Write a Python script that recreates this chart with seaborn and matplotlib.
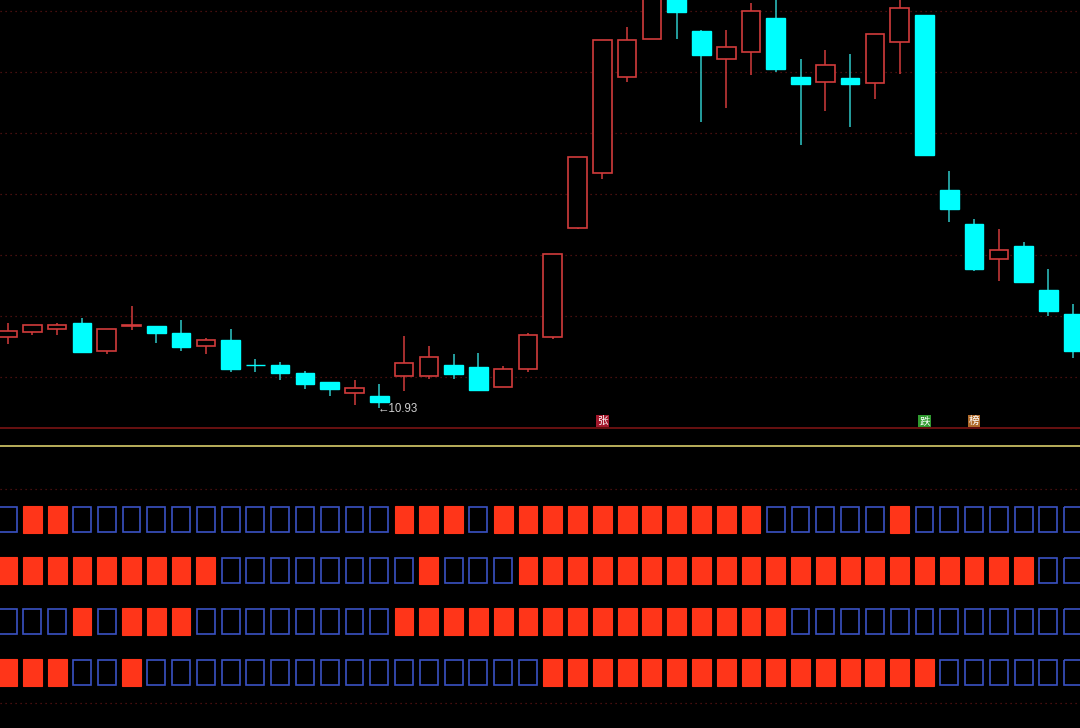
import numpy as np
import pandas as pd
import matplotlib
matplotlib.use("Agg")
import matplotlib.pyplot as plt
import matplotlib.transforms as mtransforms
import seaborn as sns

# ---------------- data ----------------
opens = [11.99, 12.07, 12.12, 12.20, 11.79, 12.16, 12.16, 12.05, 11.86, 11.95,
         11.58, 11.57, 11.45, 11.32, 11.16, 11.11, 11.41, 11.41, 11.58, 11.54,
         11.25, 11.52, 12.00, 13.63, 14.45, 15.90, 16.46, 17.18, 16.58, 16.17,
         16.27, 16.78, 15.90, 15.82, 15.88, 15.81, 16.42, 16.83, 14.20, 13.69,
         13.17, 13.36, 12.70, 12.34]
highs = [12.20, 12.18, 12.20, 12.28, 12.11, 12.46, 12.16, 12.25, 11.98, 12.11,
         11.67, 11.62, 11.49, 11.32, 11.35, 11.29, 12.01, 11.86, 11.74, 11.75,
         11.56, 12.05, 13.24, 14.70, 16.45, 16.64, 17.25, 17.30, 16.60, 16.60,
         17.01, 17.10, 16.17, 16.30, 16.24, 16.54, 17.10, 16.83, 14.49, 13.77,
         13.61, 13.42, 13.02, 12.49]
lows = [11.89, 12.02, 12.02, 11.75, 11.74, 12.10, 11.91, 11.79, 11.74, 11.47,
        11.47, 11.35, 11.22, 11.11, 10.97, 10.93, 11.19, 11.37, 11.37, 11.20,
        11.25, 11.47, 11.97, 13.62, 14.37, 15.82, 16.46, 16.46, 15.22, 15.43,
        15.93, 15.97, 14.88, 15.39, 15.15, 15.57, 15.94, 14.73, 13.72, 12.99,
        12.84, 12.82, 12.31, 11.68]
closes = [12.08, 12.18, 12.18, 11.77, 12.11, 12.18, 12.06, 11.84, 11.95, 11.52,
          11.58, 11.46, 11.29, 11.21, 11.23, 11.02, 11.60, 11.69, 11.44, 11.20,
          11.51, 12.02, 13.24, 14.70, 16.45, 16.45, 17.20, 16.87, 16.22, 16.35,
          16.88, 16.02, 15.79, 16.07, 15.79, 16.54, 16.93, 14.73, 13.91, 13.01,
          13.30, 12.82, 12.39, 11.79]

low_label = "←10.93"
low_index = 15

signal_labels = ["张", "跌", "榜"]
signal_index = [24, 37, 39]
signal_colors = ["#a3182c", "#2f9a2f", "#b06a2a"]

# indicator rows: 1 = filled red block, 0 = hollow blue block
row1 = [0, 1, 1, 0, 0, 0, 0, 0, 0, 0, 0, 0, 0, 0, 0, 0, 1, 1, 1, 0, 1, 1,
        1, 1, 1, 1, 1, 1, 1, 1, 1, 0, 0, 0, 0, 0, 1, 0, 0, 0, 0, 0, 0, 0]
row2 = [1, 1, 1, 1, 1, 1, 1, 1, 1, 0, 0, 0, 0, 0, 0, 0, 0, 1, 0, 0, 0, 1,
        1, 1, 1, 1, 1, 1, 1, 1, 1, 1, 1, 1, 1, 1, 1, 1, 1, 1, 1, 1, 0, 0]
row3 = [0, 0, 0, 1, 0, 1, 1, 1, 0, 0, 0, 0, 0, 0, 0, 0, 1, 1, 1, 1, 1, 1,
        1, 1, 1, 1, 1, 1, 1, 1, 1, 1, 0, 0, 0, 0, 0, 0, 0, 0, 0, 0, 0, 0]
row4 = [1, 1, 1, 0, 0, 1, 0, 0, 0, 0, 0, 0, 0, 0, 0, 0, 0, 0, 0, 0, 0, 0,
        1, 1, 1, 1, 1, 1, 1, 1, 1, 1, 1, 1, 1, 1, 1, 1, 0, 0, 0, 0, 0, 0]
rows = [row1, row2, row3, row4]

# ---------------- style ----------------
sns.set_theme(style="dark", rc={
    "figure.facecolor": "black",
    "axes.facecolor": "black",
    "savefig.facecolor": "black",
})
plt.rcParams["font.family"] = ["DejaVu Sans"]

UP = "#d23b3b"
DOWN = "#00ffff"
DOWN_WICK = "#2ec8c8"
GRID = "#5e1414"
BLOCK_RED = "#ff3519"
BLOCK_BLUE = "#3a52c4"

df = pd.DataFrame({"open": opens, "high": highs, "low": lows, "close": closes})
df["idx"] = np.arange(len(df))
df["up"] = df["close"] >= df["open"]
df.loc[df["open"] == df["close"], "up"] = False
df.loc[5, "up"] = True

W, H = 1080, 728
fig = plt.figure(figsize=(W / 100, H / 100), dpi=100)
x0 = 7.6
step = 24.78
xlim = (-x0 / step, (W - x0) / step)

# ---------------- price panel ----------------
ax = fig.add_axes([0, 1 - 428 / H, 1, 428 / H])
ax.set_facecolor("black")
ax.set_xlim(*xlim)
ax.set_ylim(10.63, 17.05)
grid_levels = np.arange(11.395, 17.0, 0.915)
for g in grid_levels:
    ax.axhline(g, color=GRID, lw=0.9, ls=(0, (1, 3)), zorder=0)

body_w = 0.75
for _, r in df.iterrows():
    col = UP if r["up"] else DOWN
    wcol = UP if r["up"] else DOWN_WICK
    ax.vlines(r["idx"], r["low"], r["high"], color=wcol, lw=1.1, zorder=1)
    lo = min(r["open"], r["close"])
    hgt = abs(r["close"] - r["open"])
    if r["up"]:
        ax.bar(r["idx"], hgt, bottom=lo, width=body_w, facecolor="black",
               edgecolor=col, linewidth=1.2, zorder=2)
    else:
        ax.bar(r["idx"], hgt, bottom=lo, width=body_w, facecolor=col,
               edgecolor=col, linewidth=1.0, zorder=2)

ax.annotate(low_label, xy=(low_index, lows[low_index]), xytext=(-1, -1),
            textcoords="offset points", ha="left", va="center",
            color="#d0d0d0", fontsize=8.3,
            family=["Liberation Sans", "DejaVu Sans"])

trans = mtransforms.blended_transform_factory(ax.transData, ax.transAxes)
for lab, i, c in zip(signal_labels, signal_index, signal_colors):
    ax.text(i, 7 / 428, lab, transform=trans, ha="center", va="center",
            color="white", fontsize=7.6,
            family=["Noto Sans CJK SC", "DejaVu Sans"],
            bbox=dict(boxstyle="square,pad=0.1", facecolor=c, edgecolor="none"))

for s in ["top", "left", "right"]:
    ax.spines[s].set_visible(False)
ax.spines["bottom"].set_color("#7a1414")
ax.spines["bottom"].set_linewidth(1.2)
ax.set_xticks([])
ax.set_yticks([])

# ---------------- indicator panel ----------------
ax2 = fig.add_axes([0, 0, 1, (H - 446) / H])
ax2.set_facecolor("black")
ax2.set_xlim(*xlim)
ry0, rstep = 519.3, 51.1
ax2.set_ylim((728 - ry0) / rstep, (446 - ry0) / rstep)
for g in [(489 - ry0) / rstep, (703 - ry0) / rstep]:
    ax2.axhline(g, color=GRID, lw=0.9, ls=(0, (1, 3)), zorder=0)

blk_w = 0.76
blk_h = 0.52
for ri, row in enumerate(rows):
    for i, v in enumerate(row):
        if v:
            ax2.bar(i, blk_h, bottom=ri - blk_h / 2, width=blk_w,
                    facecolor=BLOCK_RED, edgecolor=BLOCK_RED, linewidth=0.8)
        else:
            ax2.bar(i, blk_h - 0.02, bottom=ri - blk_h / 2 + 0.01, width=blk_w - 0.04,
                    facecolor="none", edgecolor=BLOCK_BLUE, linewidth=1.2)

for s in ["bottom", "left", "right"]:
    ax2.spines[s].set_visible(False)
ax2.spines["top"].set_color("#d8cc6a")
ax2.spines["top"].set_linewidth(1.2)
ax2.set_xticks([])
ax2.set_yticks([])

fig.savefig("out.png", dpi=100, facecolor="black")
